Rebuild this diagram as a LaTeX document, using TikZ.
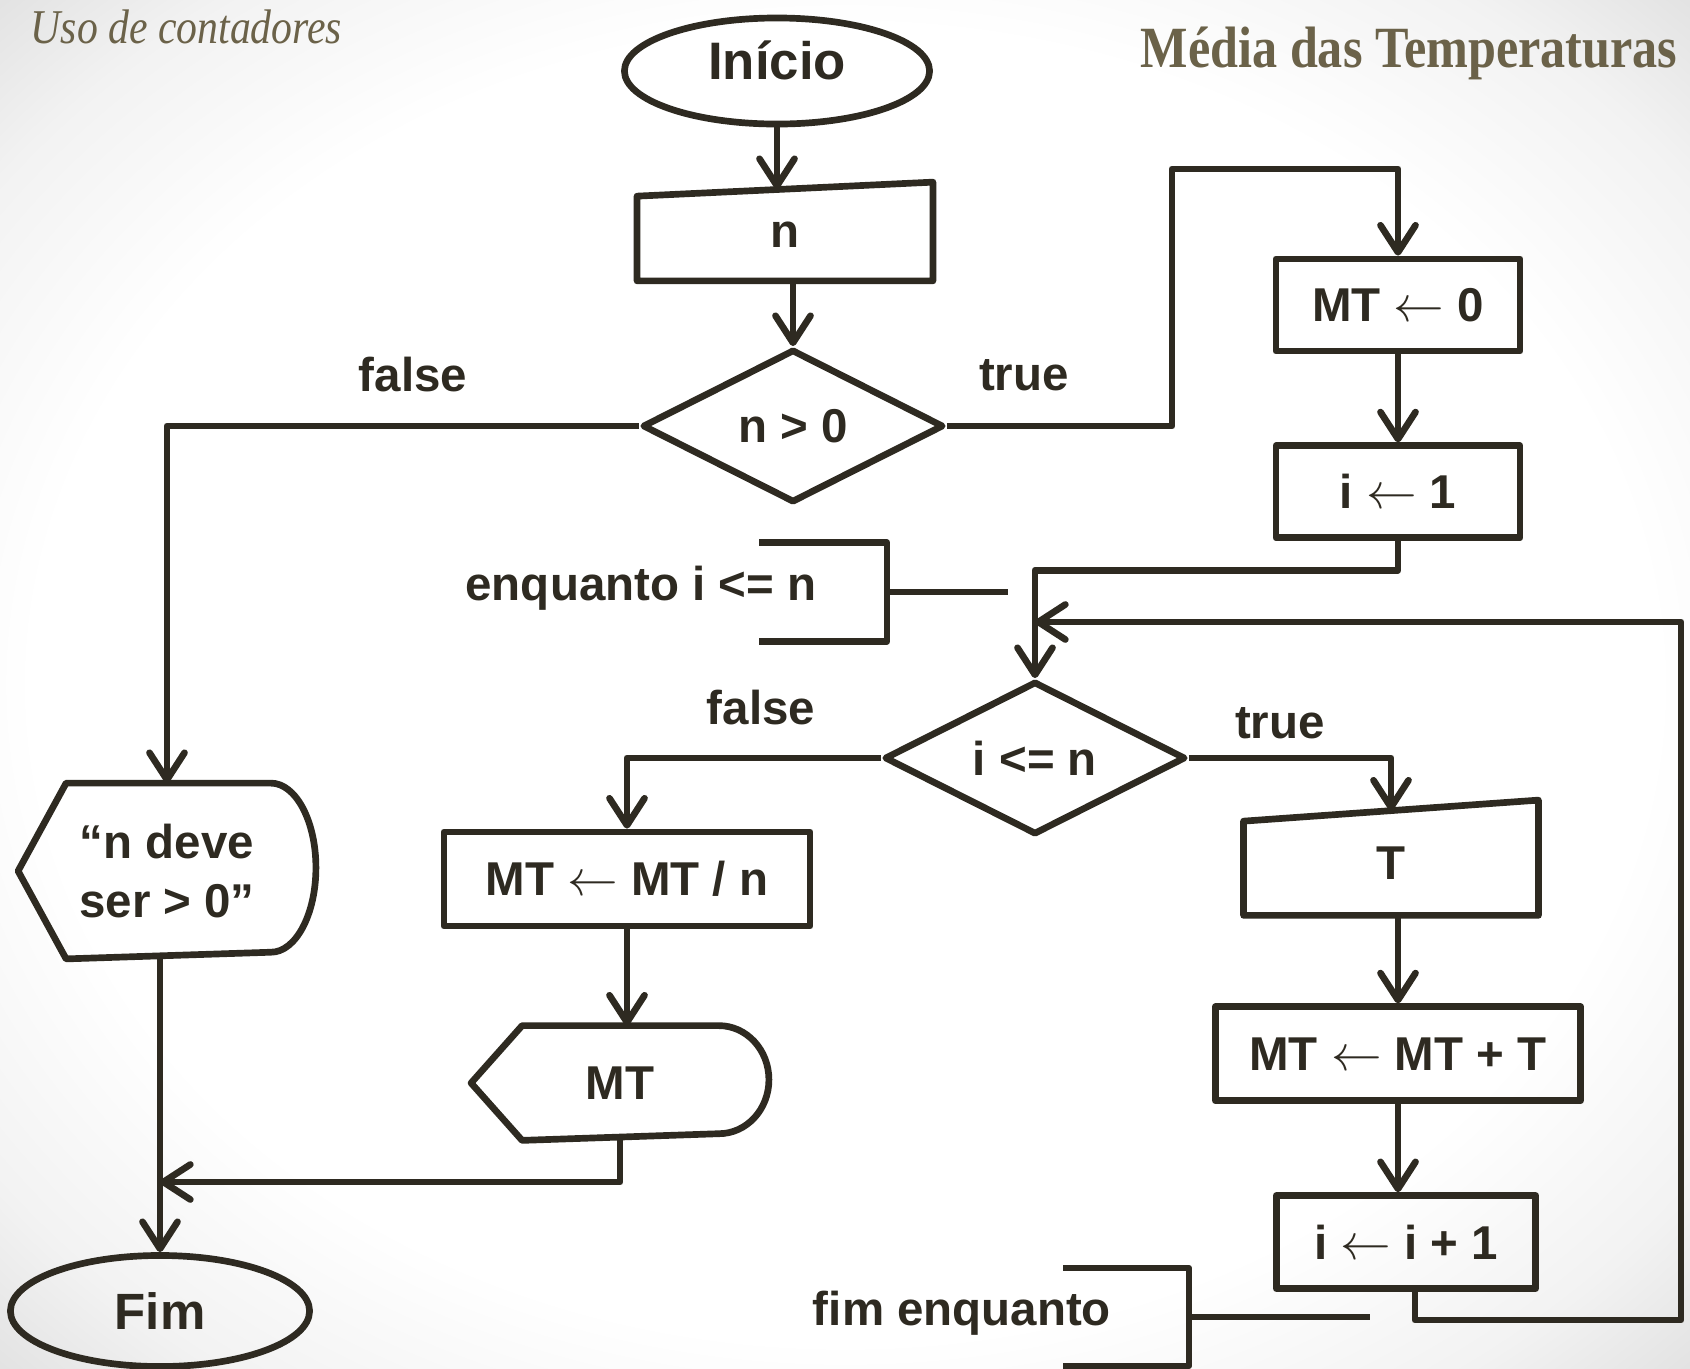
\documentclass[tikz,border=0pt]{standalone}
\usepackage{fontspec}
\setmainfont{Liberation Sans}
\newfontfamily\headfont[FakeStretch=0.86]{Liberation Serif}
\usetikzlibrary{arrows.meta,positioning,shapes.geometric}
\definecolor{linec}{HTML}{2E2A21}
\definecolor{headc}{HTML}{6B6249}
\pgfdeclareradialshading{vign}{\pgfpoint{0bp}{0bp}}{color(0bp)=(white);color(24bp)=(white);color(31bp)=(black!5);color(36bp)=(black!12);color(50bp)=(black!12)}
\tikzset{box/.style={draw=linec,line width=1.9pt,line join=round,align=center,inner sep=0pt,text=linec,font=\bfseries\fontsize{13.5}{17}\selectfont},term/.style={box,ellipse,font=\bfseries\fontsize{15}{18}\selectfont},cond/.style={box,diamond,aspect=2,minimum width=3.01cm,minimum height=1.53cm},slot/.style={box,draw=none},line/.style={draw=linec,line width=1.9pt,line join=round},arrow/.style={line,-{Straight Barb[length=2.7mm,width=3.5mm,round]}},note/.style={font=\bfseries\fontsize{13.5}{17}\selectfont,text=linec},head/.style={text=headc,inner sep=0pt}}

\begin{document}
\begin{tikzpicture}[x=0.01cm,y=-0.01cm,node distance=0.88cm]
\useasboundingbox (0,0) rectangle (1690,1369);
\shade[shading=vign] (0,0) rectangle (1690,1369);
\node[head,anchor=base west,font=\headfont\itshape\fontsize{13.8}{16}\selectfont] (sub) at (30,43) {Uso de contadores};
\node[head,anchor=base east,font=\headfont\bfseries\fontsize{16.6}{19}\selectfont] (ttl) at (1678,67) {Média das Temperaturas};
\node[term,minimum width=3.05cm,minimum height=1.06cm,text height=11pt,text depth=6pt] (ini) at (777,71) {Início};
\node[slot,minimum width=2.89cm,minimum height=0.85cm] (nin) at (785,235) {n};
\node[cond] (d1) at (793,426) {n > 0};
\node[slot,minimum width=2.91cm,minimum height=1.69cm] (msg) at (167,871) {“n deve\\ser > 0”};
\node[box,minimum width=2.44cm,minimum height=0.92cm] (mt0) at (1398,305) {MT $\leftarrow$ 0};
\node[box,minimum width=2.44cm,minimum height=0.92cm,below=of mt0] (i1) {i $\leftarrow$ 1};
\node[cond] (d2) at (1035,758) {i <= n};
\node[box,minimum width=3.66cm,minimum height=0.94cm] (mtn) at (627,879) {MT $\leftarrow$ MT / n};
\node[slot,minimum width=2.91cm,minimum height=1.08cm] (mto) at (620,1083) {MT};
\node[slot,minimum width=2.88cm,minimum height=0.98cm] (tin) at (1391,863) {T};
\node[box,minimum width=3.65cm,minimum height=0.94cm,below=of tin,xshift=0.07cm] (mtt) {MT $\leftarrow$ MT + T};
\node[box,minimum width=2.59cm,minimum height=0.93cm,below=of mtt,xshift=0.08cm] (ip1) {i $\leftarrow$ i + 1};
\node[term,minimum width=2.99cm,minimum height=1.11cm,font=\bfseries\fontsize{14.5}{17}\selectfont] (fim) at (160,1311) {Fim};
\draw[line] (nin.south west) -- ([yshift=-0.07cm]nin.north west) -- ([yshift=0.07cm]nin.north east) -- (nin.south east) -- cycle;
\draw[line] (tin.south west) -- ([yshift=-0.105cm]tin.north west) -- ([yshift=0.105cm]tin.north east) -- (tin.south east) -- cycle;
\draw[line] (msg.west) -- ([xshift=0.48cm]msg.north west) -- ([xshift=-0.45cm]msg.north east) arc[start angle=90,end angle=-90,x radius=0.45cm,y radius=0.845cm] -- ([xshift=0.48cm]msg.south west) -- cycle;
\draw[line] (mto.west) -- ([xshift=0.51cm]mto.north west) -- ([xshift=-0.5cm]mto.north east) arc[start angle=90,end angle=-90,x radius=0.5cm,y radius=0.54cm] -- ([xshift=0.51cm]mto.south west) -- cycle;
\node[slot,minimum width=1.21cm,minimum height=0.92cm] (wb) at (823,592) {};
\node[note] (wtxt) at (641,588) {enquanto i <= n};
\draw[line] (wb.north west) -- (wb.north east) -- (wb.south east) -- (wb.south west);
\draw[line] (wb.east) -- ++(121,0);
\node[slot,minimum width=1.19cm,minimum height=0.91cm] (fb) at (1126,1317) {};
\node[note] (ftxt) at (962,1313) {fim enquanto};
\draw[line] (fb.north west) -- (fb.north east) -- (fb.south east) -- (fb.south west);
\draw[line] (fb.east) -- ++(181,0);
\coordinate (up) at (1172,169);
\coordinate (loopb) at (1681,1320);
\coordinate (loopt) at (1681,622);
\coordinate (join) at (160,1182);
\draw[arrow] (ini.south) -- (ini.south |- nin.north);
\draw[arrow] (nin.south -| d1.north) -- (d1.north);
\draw[arrow] (d1.west) -| (msg.north);
\draw[arrow] (d1.east) -| (up) -| (mt0.north);
\draw[arrow] (mt0) -- (i1);
\draw[arrow] (i1.south) -- ++(0,29) -| (d2.north);
\draw[arrow] ([xshift=0.09cm]ip1.south) |- (loopb) -- (loopt) -- (loopt -| d2.north);
\draw[arrow] (d2.west) -| (mtn.north);
\draw[arrow] (d2.east) -| (tin.north);
\draw[arrow] (tin.south -| mtt.north) -- (mtt.north);
\draw[arrow] (mtt.south) -- (mtt.south |- ip1.north);
\draw[arrow] (mtn.south) -- (mtn.south |- mto.north);
\draw[arrow] (mto.south) |- (join);
\draw[arrow] (msg.south -| fim.north) -- (fim.north);
\node[note] (f1) at (413,375) {false};
\node[note] (t1) at (1024,375) {true};
\node[note] (f2) at (761,708) {false};
\node[note] (t2) at (1280,723) {true};
\end{tikzpicture}
\end{document}
